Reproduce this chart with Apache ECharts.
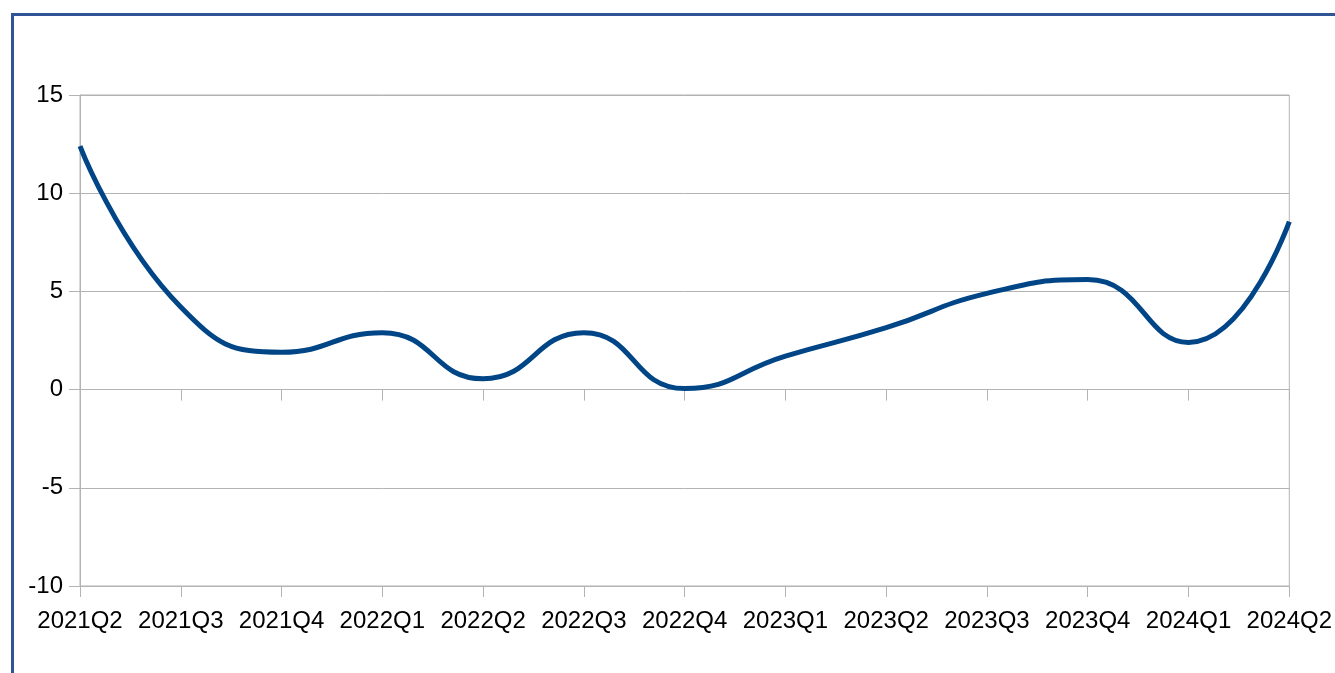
<!DOCTYPE html>
<html>
<head>
<meta charset="utf-8">
<script src="https://cdn.jsdelivr.net/npm/echarts@6/dist/echarts.min.js"></script>
<style>
  html, body { margin: 0; padding: 0; background: #ffffff; overflow: hidden; }
  #frame { position: absolute; left: 11px; top: 13px; width: 1400px; height: 700px;
           border-left: 3px solid #2f5597; border-top: 3px solid #2f5597; box-sizing: border-box; }
  #chart { position: absolute; left: 0; top: 0; width: 1335px; height: 673px; }
</style>
</head>
<body>
<div id="frame"></div>
<div id="chart"></div>
<script>
const categories = ['2021Q2','2021Q3','2021Q4','2022Q1','2022Q2','2022Q3','2022Q4','2023Q1','2023Q2','2023Q3','2023Q4','2024Q1','2024Q2'];
const values = [12.4, 4.2, 1.9, 2.9, 0.55, 2.9, 0.05, 1.7, 3.15, 4.9, 5.6, 2.4, 8.55];
const yMin = -10, yMax = 15, yStep = 5;

const gridGray = '#b3b3b3';
const font = 'Liberation Sans, Arial, sans-serif';
const chart = echarts.init(document.getElementById('chart'), null, { renderer: 'canvas' });
chart.setOption({
  backgroundColor: 'transparent',
  animation: false,
  grid: { left: 80, right: 40, top: 95, bottom: 87, show: true, borderColor: gridGray, borderWidth: 1, backgroundColor: 'transparent' },
  xAxis: [
    {
      type: 'category', data: categories, boundaryGap: false, position: 'bottom',
      axisLine: { onZero: false, lineStyle: { color: gridGray, width: 1 } },
      axisTick: { show: true, length: 11, alignWithLabel: true, lineStyle: { color: gridGray } },
      axisLabel: { color: '#000', fontFamily: font, fontSize: 24, margin: 23, interval: 0 },
      splitLine: { show: false }
    },
    {
      type: 'category', data: categories, boundaryGap: false, position: 'top',
      axisLine: { show: true, onZero: true, onZeroAxisIndex: 0, lineStyle: { color: gridGray, width: 1 } },
      axisTick: { show: true, inside: true, length: 11, lineStyle: { color: gridGray } },
      axisLabel: { show: false },
      splitLine: { show: false }
    }
  ],
  yAxis: {
    type: 'value', min: yMin, max: yMax, interval: yStep,
    axisLine: { show: true, lineStyle: { color: gridGray, width: 1 } },
    axisTick: { show: true, length: 11, lineStyle: { color: gridGray } },
    axisLabel: { color: '#000', fontFamily: font, fontSize: 24, margin: 17 },
    splitLine: { show: true, lineStyle: { color: gridGray, width: 1 } }
  },
  series: [{
    type: 'line', data: values, smooth: 0.5, symbol: 'none', xAxisIndex: 0,
    lineStyle: { color: '#004586', width: 5 }
  }]
});
</script>
</body>
</html>
